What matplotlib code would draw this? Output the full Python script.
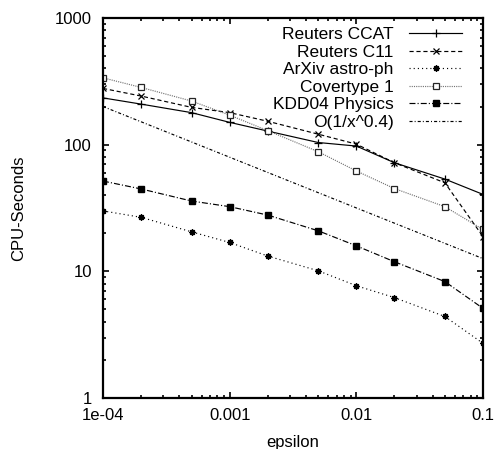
import matplotlib
matplotlib.use("Agg")
import matplotlib.pyplot as plt
from matplotlib.ticker import FixedLocator, FixedFormatter, LogLocator, NullFormatter

plt.rcParams['font.family'] = ['Liberation Sans', 'DejaVu Sans']
plt.rcParams['lines.scale_dashes'] = False

eps = [1e-4, 2e-4, 5e-4, 1e-3, 2e-3, 5e-3, 1e-2, 2e-2, 5e-2, 1e-1]
reuters_ccat = [234, 209, 179, 150, 128, 104, 97.5, 72, 53.5, 40.5]
reuters_c11 = [278, 242, 197, 179, 153, 121, 101, 72, 50, 18.8]
arxiv = [30, 26.7, 20.5, 16.9, 13.2, 10.1, 7.7, 6.2, 4.4, 2.7]
covertype = [337, 283, 221, 171, 129, 88, 62, 45, 32.4, 21.4]
kdd04 = [51.6, 44.7, 35.9, 32.4, 27.8, 20.9, 15.9, 11.9, 8.3, 5.1]
ref_x = [1e-4, 1e-1]
ref_y = [200, 12.6]

xticks = [1e-4, 1e-3, 1e-2, 1e-1]
xticklabels = ["1e-04", "0.001", "0.01", "0.1"]
yticks = [1, 10, 100, 1000]
yticklabels = ["1", "10", "100", "1000"]

fig = plt.figure(figsize=(4.97, 4.49), dpi=100)
ax = fig.add_axes([103/497, 1-398/449, 380/497, 380/449])

lw = 0.85
ax.plot(eps, reuters_ccat, color='black', lw=lw, ls='-', marker='+', ms=5.5, mew=0.9,
        label='Reuters CCAT')
ax.plot(eps, reuters_c11, color='black', lw=lw, ls=(0, (3, 2)), marker='x', ms=4.5, mew=0.9,
        label='Reuters C11')
ax.plot(eps, arxiv, color='black', lw=lw, ls=(0, (0.8, 2.2)), marker=(8, 2, 0), ms=4.5, mew=1.0,
        label='ArXiv astro-ph')
ax.plot(eps, covertype, color='0.45', lw=lw, ls=(0, (0.8, 0.8)), marker='s', ms=4.3, mew=0.9,
        mfc='white', mec='0.15', label='Covertype 1')
ax.plot(eps, kdd04, color='black', lw=lw, ls=(0, (4.3, 1.5, 0.8, 1.5)), marker='s', ms=4.5,
        mfc='black', mec='black', label='KDD04 Physics')
ax.plot(ref_x, ref_y, color='black', lw=lw, ls=(0, (2.2, 1.5, 0.7, 1.5)),
        label='O(1/x^0.4)')

ax.set_xscale('log')
ax.set_yscale('log')
ax.set_xlim(1e-4, 1e-1)
ax.set_ylim(1, 1000)

ax.xaxis.set_major_locator(FixedLocator(xticks))
ax.xaxis.set_major_formatter(FixedFormatter(xticklabels))
ax.yaxis.set_major_locator(FixedLocator(yticks))
ax.yaxis.set_major_formatter(FixedFormatter(yticklabels))
ax.xaxis.set_minor_locator(LogLocator(base=10, subs=range(2, 10)))
ax.yaxis.set_minor_locator(LogLocator(base=10, subs=range(2, 10)))
ax.xaxis.set_minor_formatter(NullFormatter())
ax.yaxis.set_minor_formatter(NullFormatter())

ax.tick_params(which='both', direction='in', top=True, right=True, width=1.2, labelsize=12)
ax.tick_params(which='major', length=4)
ax.tick_params(which='minor', length=2.5)
ax.tick_params(axis='y', pad=8)
ax.tick_params(axis='x', pad=7)
for s in ax.spines.values():
    s.set_linewidth(1.6)

ax.set_xlabel('epsilon', fontsize=12, labelpad=9)
ax.set_ylabel('CPU-Seconds', fontsize=12, labelpad=21)

leg = ax.legend(loc='upper right', bbox_to_anchor=(462/497, 1-27/449),
                bbox_transform=fig.transFigure, frameon=False, markerfirst=False,
                fontsize=12.5, handlelength=3.05, handletextpad=0.9, labelspacing=0.14,
                borderpad=0, borderaxespad=0, numpoints=1)

fig.savefig('out.png', dpi=100)
